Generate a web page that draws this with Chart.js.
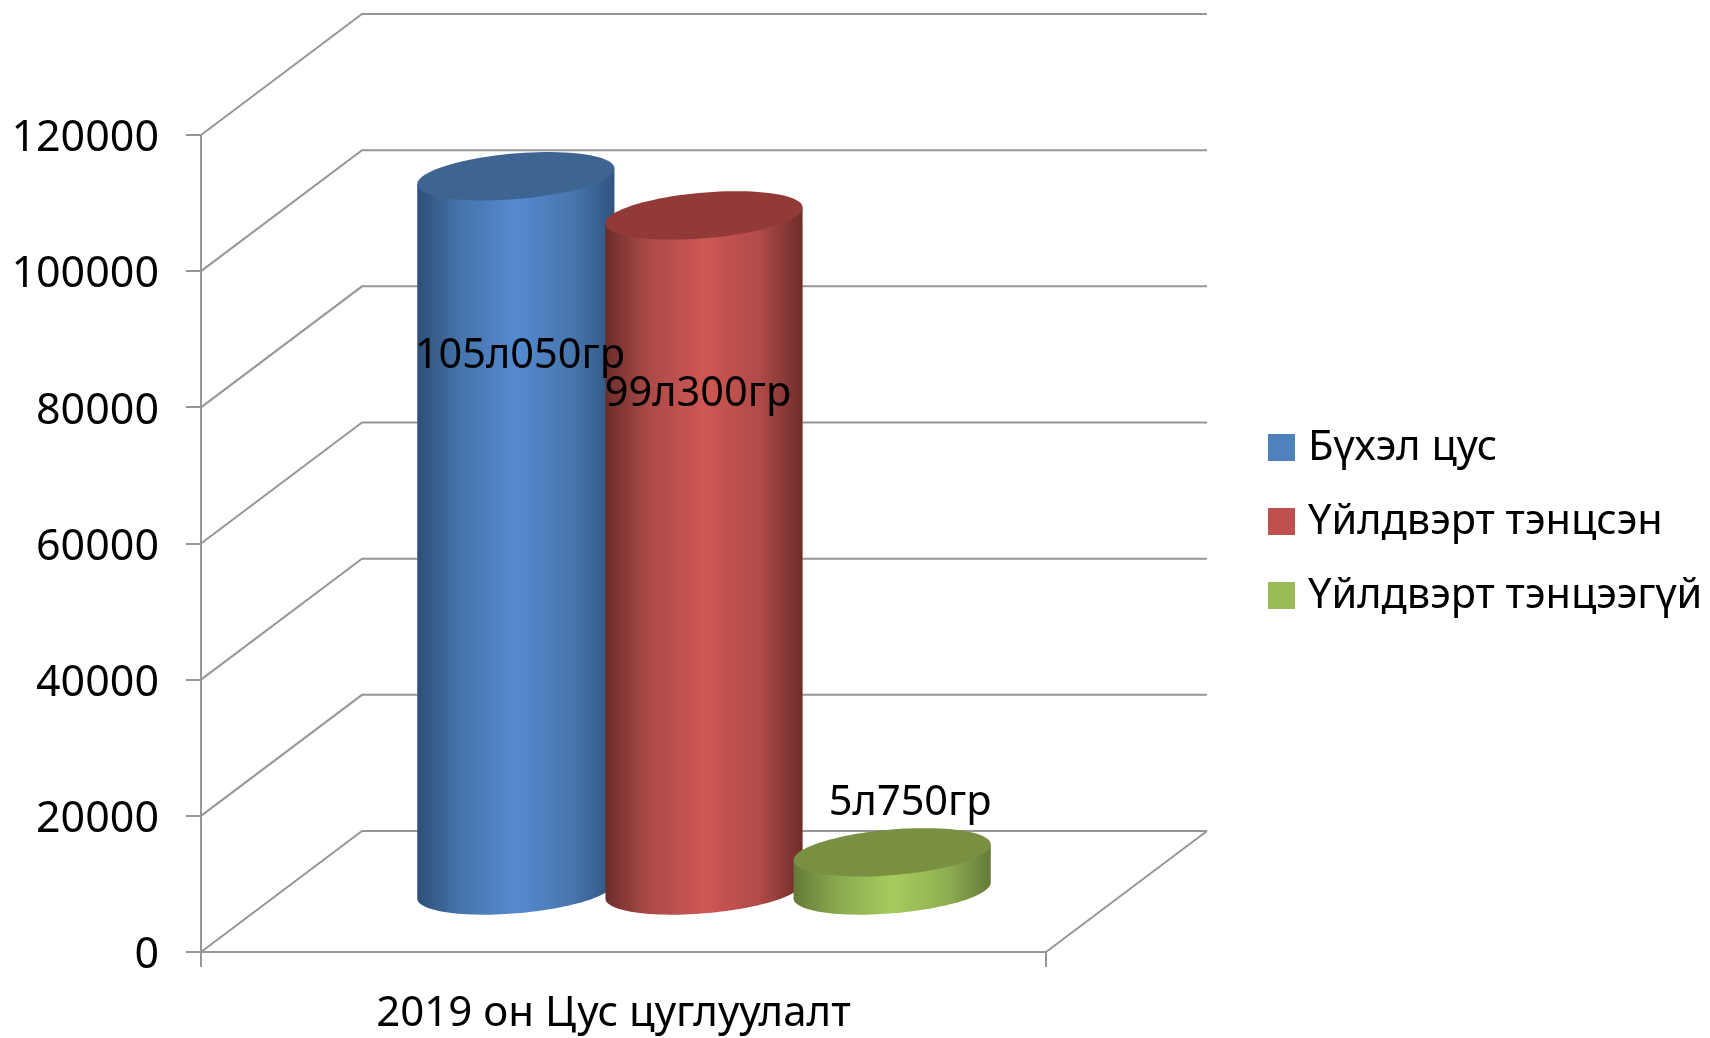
<!DOCTYPE html>
<html lang="mn">
<head>
    <meta charset="UTF-8">
    <title>2019 он Цус цуглуулалт</title>
    <script src="https://cdn.jsdelivr.net/npm/chart.js"></script>
    <style>
        html, body { margin: 0; padding: 0; background: #fff; }
        canvas { display: block; }
    </style>
</head>
<body>
    <canvas id="myChart" width="1710" height="1038"></canvas>
    <script>
        const categories = ['2019 он Цус цуглуулалт'];
        const seriesNames = ['Бүхэл цус', 'Үйлдвэрт тэнцсэн', 'Үйлдвэрт тэнцээгүй'];
        const wholeBlood = [105050];
        const accepted = [99300];
        const rejected = [5750];
        const valueLabels = ['105л050гр', '99л300гр', '5л750гр'];
        const yTicks = [0, 20000, 40000, 60000, 80000, 100000, 120000];

        const FONT = '"Noto Sans", sans-serif';
        const GRID = '#969696';

        // legend colour, top face colour, side gradient from left to right
        const colors = [
            { legend: '#4f81bd', top: '#3e6491', side: ['#2d4f78', '#4674ab', '#558aD0', '#4876ae', '#30557f'] },
            { legend: '#c0504d', top: '#923a38', side: ['#6b2d2b', '#ab4a47', '#cf5754', '#b04b48', '#6e2c2a'] },
            { legend: '#9bbb59', top: '#799043', side: ['#647a38', '#8aa84e', '#a8cb5e', '#8fae50', '#647a38'] }
        ];
        const sideStops = [0, 0.22, 0.5, 0.78, 1];

        // how far the back wall sits from the front plane
        const wall = { dx: 161, dy: -121 };
        // cylinders stand half way back, their ellipse follows the depth direction
        const ellipseDepth = 0.4;

        // label nudges from the cylinder: x from centre, y from top face
        const labelOffsets = [[4, 180], [-6, 179], [18, -49]];

        const legendBox = { x: 1268, y: 434, size: 27, gap: 74, textX: 1308 };

        function drawWalls(chart) {
            const ctx = chart.ctx;
            const { left, right, bottom } = chart.chartArea;
            const y = chart.scales.y;
            ctx.save();
            ctx.strokeStyle = GRID;
            ctx.lineWidth = 2;
            yTicks.forEach(v => {
                const py = y.getPixelForValue(v);
                ctx.beginPath();
                ctx.moveTo(left, py);
                ctx.lineTo(left + wall.dx, py + wall.dy);
                ctx.lineTo(right + wall.dx, py + wall.dy);
                ctx.stroke();
            });
            // right side of the floor
            ctx.beginPath();
            ctx.moveTo(right, bottom);
            ctx.lineTo(right + wall.dx, bottom + wall.dy);
            ctx.stroke();
            ctx.restore();
        }

        function drawCylinder(ctx, bar, color) {
            const cx = bar.x + wall.dx / 2;
            const topY = bar.y + wall.dy / 2;
            const baseY = bar.base + wall.dy / 2;
            const half = bar.width / 2;
            const u = wall.dx / 2 * ellipseDepth;
            const v = wall.dy / 2 * ellipseDepth;
            const a = Math.sqrt(half * half - u * u);
            const t0 = Math.atan2(u, a);
            const pt = (t, yc) => [cx + a * Math.cos(t) + u * Math.sin(t), yc + v * Math.sin(t)];

            // side: top right point, bottom half of base ellipse, top left point
            ctx.beginPath();
            ctx.moveTo(...pt(t0, topY));
            for (let i = 0; i <= 60; i++) {
                ctx.lineTo(...pt(t0 - Math.PI * i / 60, baseY));
            }
            ctx.lineTo(...pt(t0 - Math.PI, topY));
            ctx.closePath();
            const grad = ctx.createLinearGradient(cx - half, 0, cx + half, 0);
            sideStops.forEach((s, i) => grad.addColorStop(s, color.side[i]));
            ctx.fillStyle = grad;
            ctx.fill();

            // top face
            ctx.beginPath();
            for (let i = 0; i <= 90; i++) {
                const p = pt(Math.PI * 2 * i / 90, topY);
                if (i === 0) ctx.moveTo(...p); else ctx.lineTo(...p);
            }
            ctx.closePath();
            ctx.fillStyle = color.top;
            ctx.fill();
        }

        const cylinders = {
            id: 'cylinders',
            // native flat bars are replaced, the geometry still comes from them
            beforeDatasetsDraw(chart) {
                const ctx = chart.ctx;
                drawWalls(chart);
                const bars = chart.data.datasets.map((d, i) => chart.getDatasetMeta(i).data[0]);
                ctx.save();
                bars.forEach((bar, i) => drawCylinder(ctx, bar, colors[i]));
                ctx.fillStyle = '#000';
                ctx.font = '41.5px ' + FONT;
                ctx.textAlign = 'center';
                ctx.textBaseline = 'middle';
                bars.forEach((bar, i) => {
                    ctx.fillText(
                        valueLabels[i],
                        bar.x + wall.dx / 2 + labelOffsets[i][0],
                        bar.y + wall.dy / 2 + labelOffsets[i][1]
                    );
                });
                // legend
                ctx.textAlign = 'left';
                seriesNames.forEach((name, i) => {
                    const y = legendBox.y + legendBox.gap * i;
                    ctx.fillStyle = colors[i].legend;
                    ctx.fillRect(legendBox.x, y, legendBox.size, legendBox.size);
                    ctx.fillStyle = '#000';
                    ctx.fillText(name, legendBox.textX, y + legendBox.size / 2 + 1);
                });
                ctx.restore();
                return false;
            }
        };

        new Chart(document.getElementById('myChart').getContext('2d'), {
            type: 'bar',
            data: {
                labels: categories,
                datasets: [
                    { label: seriesNames[0], data: wholeBlood, backgroundColor: colors[0].legend },
                    { label: seriesNames[1], data: accepted, backgroundColor: colors[1].legend },
                    { label: seriesNames[2], data: rejected, backgroundColor: colors[2].legend }
                ]
            },
            options: {
                responsive: false,
                animation: false,
                categoryPercentage: 0.668,
                barPercentage: 1.048,
                layout: { padding: { top: 135, right: 664 } },
                plugins: {
                    legend: { display: false },
                    tooltip: { enabled: false }
                },
                scales: {
                    x: {
                        afterFit(scale) { scale.height = 86; },
                        border: { display: true, color: GRID, width: 2 },
                        grid: { drawOnChartArea: false, color: GRID, lineWidth: 2, tickLength: 15 },
                        ticks: {
                            color: '#000',
                            font: { family: FONT, size: 42 },
                            padding: 22,
                            labelOffset: -10,
                            maxRotation: 0
                        }
                    },
                    y: {
                        min: 0,
                        max: 120000,
                        afterFit(scale) { scale.width = 201; },
                        border: { display: true, color: GRID, width: 2 },
                        grid: { drawOnChartArea: false, color: GRID, lineWidth: 2, tickLength: 15 },
                        ticks: {
                            stepSize: 20000,
                            color: '#000',
                            font: { family: FONT, size: 43 },
                            padding: 27,
                            labelOffset: 4,
                            callback: v => String(v)
                        }
                    }
                }
            },
            plugins: [cylinders]
        });
    </script>
</body>
</html>
